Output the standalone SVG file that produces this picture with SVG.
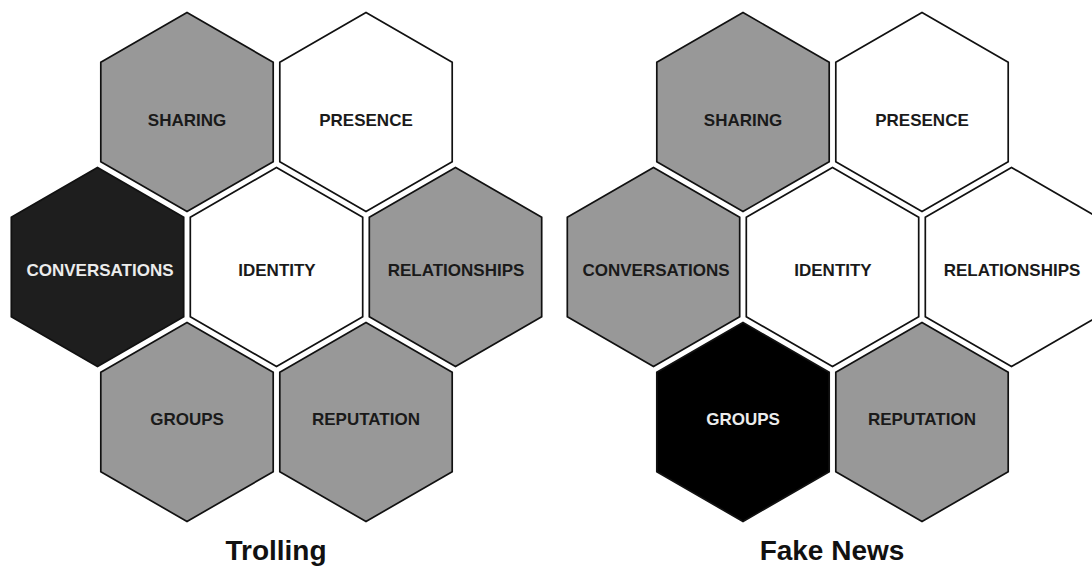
<svg xmlns="http://www.w3.org/2000/svg" xmlns:xlink="http://www.w3.org/1999/xlink" width="1092" height="570" viewBox="0 0 1092 570">
  <style>
    .hex { stroke: #111; stroke-width: 1.7; stroke-linejoin: miter; }
    .gray { fill: #989898; }
    .white { fill: #ffffff; }
    .dark { fill: #1e1e1e; }
    .black { fill: #000000; }
    .lbl { font-family: "Liberation Sans", Arial, sans-serif; font-weight: bold; font-size: 17px; text-anchor: middle; fill: #1a1a1a; }
    .lbl.inv { fill: #ececec; }
    .title { font-family: "Liberation Sans", Arial, sans-serif; font-weight: bold; font-size: 28px; text-anchor: middle; fill: #111; }
  </style>
  <defs>
    <polygon id="hexshape" points="0,-99.5 86.2,-49.75 86.2,49.75 0,99.5 -86.2,49.75 -86.2,-49.75"/>
  </defs>
  <rect width="1092" height="570" fill="#ffffff"/>

  <!-- Trolling -->
  <g id="trolling">
    <g id="t-sharing"><use xlink:href="#hexshape" href="#hexshape" x="187" y="112" class="hex gray"/><text class="lbl" x="187" y="126">SHARING</text></g>
    <g id="t-presence"><use xlink:href="#hexshape" href="#hexshape" x="366" y="112" class="hex white"/><text class="lbl" x="366" y="126">PRESENCE</text></g>
    <g id="t-conversations"><use xlink:href="#hexshape" href="#hexshape" x="97.5" y="267" class="hex dark"/><text class="lbl inv" x="100" y="276">CONVERSATIONS</text></g>
    <g id="t-identity"><use xlink:href="#hexshape" href="#hexshape" x="276.5" y="267" class="hex white"/><text class="lbl" x="277" y="276">IDENTITY</text></g>
    <g id="t-relationships"><use xlink:href="#hexshape" href="#hexshape" x="455.5" y="267" class="hex gray"/><text class="lbl" x="456" y="276">RELATIONSHIPS</text></g>
    <g id="t-groups"><use xlink:href="#hexshape" href="#hexshape" x="187" y="422" class="hex gray"/><text class="lbl" x="187" y="425">GROUPS</text></g>
    <g id="t-reputation"><use xlink:href="#hexshape" href="#hexshape" x="366" y="422" class="hex gray"/><text class="lbl" x="366" y="425">REPUTATION</text></g>
    <text id="t-title" class="title" x="276" y="560">Trolling</text>
  </g>

  <!-- Fake News -->
  <g id="fakenews">
    <g id="f-sharing"><use xlink:href="#hexshape" href="#hexshape" x="743" y="112" class="hex gray"/><text class="lbl" x="743" y="126">SHARING</text></g>
    <g id="f-presence"><use xlink:href="#hexshape" href="#hexshape" x="922" y="112" class="hex white"/><text class="lbl" x="922" y="126">PRESENCE</text></g>
    <g id="f-conversations"><use xlink:href="#hexshape" href="#hexshape" x="653.5" y="267" class="hex gray"/><text class="lbl" x="656" y="276">CONVERSATIONS</text></g>
    <g id="f-identity"><use xlink:href="#hexshape" href="#hexshape" x="832.5" y="267" class="hex white"/><text class="lbl" x="833" y="276">IDENTITY</text></g>
    <g id="f-relationships"><use xlink:href="#hexshape" href="#hexshape" x="1011.5" y="267" class="hex white"/><text class="lbl" x="1012" y="276">RELATIONSHIPS</text></g>
    <g id="f-groups"><use xlink:href="#hexshape" href="#hexshape" x="743" y="422" class="hex black"/><text class="lbl inv" x="743" y="425">GROUPS</text></g>
    <g id="f-reputation"><use xlink:href="#hexshape" href="#hexshape" x="922" y="422" class="hex gray"/><text class="lbl" x="922" y="425">REPUTATION</text></g>
    <text id="f-title" class="title" x="832" y="560">Fake News</text>
  </g>

  <g id="connectors"/>
</svg>
